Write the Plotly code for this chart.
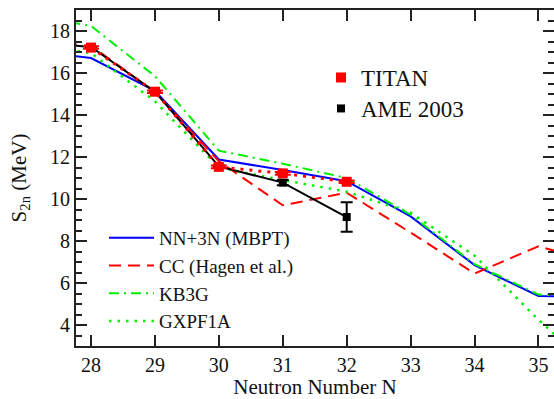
import plotly.graph_objects as go

FONT = "Liberation Serif, Times New Roman, Times, serif"

# ---- data ----
N_theory = [27, 28, 29, 30, 31, 32, 33, 34, 35, 36]
nn3n = [17.10, 16.71, 15.15, 11.88, 11.38, 10.85, 9.17, 6.85, 5.38, 5.35]
cc = [17.50, 17.30, 15.10, 11.80, 9.70, 10.30, 8.40, 6.45, 7.75, 6.90]
kb3g = [18.80, 18.24, 15.85, 12.30, 11.68, 11.00, 9.25, 6.90, 5.45, 5.30]
gxpf1a = [17.40, 16.95, 14.65, 11.50, 10.90, 10.35, 9.35, 7.30, 4.25, 1.50]

N_ame = [27, 28, 29, 30, 31, 32]
ame = [17.50, 17.24, 15.11, 11.55, 10.78, 9.14]
ame_err = [0.02, 0.02, 0.02, 0.05, 0.12, 0.70]

N_titan = [28, 29, 30, 31, 32]
titan = [17.21, 15.11, 11.53, 11.22, 10.82]
titan_err = [0.06, 0.06, 0.06, 0.06, 0.06]

x_ticks = [28, 29, 30, 31, 32, 33, 34, 35]
y_ticks = [4, 6, 8, 10, 12, 14, 16, 18]

GREEN = "#00f000"

fig = go.Figure()

fig.add_trace(go.Scatter(x=N_theory, y=nn3n, mode="lines", name="NN+3N (MBPT)",
                         line=dict(color="#0000ff", width=2), legend="legend"))
fig.add_trace(go.Scatter(x=N_theory, y=cc, mode="lines", name="CC (Hagen et al.)",
                         line=dict(color="#ff0000", width=2, dash="12px,7px"), legend="legend"))
fig.add_trace(go.Scatter(x=N_theory, y=kb3g, mode="lines", name="KB3G",
                         line=dict(color=GREEN, width=2, dash="10px,5px,2px,5px"), legend="legend"))
fig.add_trace(go.Scatter(x=N_theory, y=gxpf1a, mode="lines", name="GXPF1A",
                         line=dict(color=GREEN, width=2.5, dash="2.5px,6px"), legend="legend"))

# AME 2003 line + markers
fig.add_trace(go.Scatter(x=N_ame, y=ame, mode="lines", showlegend=False,
                         line=dict(color="black", width=2)))
fig.add_trace(go.Scatter(x=N_ame, y=ame, mode="markers", name="AME 2003",
                         marker=dict(symbol="square", size=8, color="black"),
                         error_y=dict(type="data", array=ame_err, color="black", thickness=2, width=6),
                         legend="legend3"))

# TITAN line + markers
fig.add_trace(go.Scatter(x=N_titan, y=titan, mode="lines", showlegend=False,
                         line=dict(color="#ff0000", width=3, dash="3px,6px")))
fig.add_trace(go.Scatter(x=N_titan, y=titan, mode="markers", name="TITAN",
                         marker=dict(symbol="square", size=10, color="#ff0000"),
                         error_y=dict(type="data", array=titan_err, color="#ff0000", thickness=2, width=8),
                         legend="legend2"))

L, R, T, B = 76, 0, 10, 53
W, H = 554, 399
PW, PH = W - L - R, H - T - B

axis_common = dict(
    showline=True, linecolor="#222222", linewidth=2, mirror="ticks",
    ticks="inside", tickcolor="#222222", tickwidth=1.5, ticklen=11,
    showgrid=False, zeroline=False,
    tickfont=dict(family=FONT, size=20, color="#111111"),
)

small_legend = dict(xanchor="left", yanchor="top", bgcolor="rgba(0,0,0,0)",
                    font=dict(family=FONT, size=23, color="#111111"), itemwidth=30)

fig.update_layout(
    width=W, height=H,
    margin=dict(l=L, r=R, t=T, b=B, autoexpand=False),
    paper_bgcolor="white", plot_bgcolor="white",
    font=dict(family=FONT, color="#111111"),
    xaxis=dict(range=[27.765, 35.243], tickvals=x_ticks, ticktext=[str(v) for v in x_ticks],
               title=dict(text="Neutron Number N", font=dict(family=FONT, size=21), standoff=8),
               automargin=False, **axis_common),
    yaxis=dict(range=[3, 19], tickvals=y_ticks, ticktext=[str(v) for v in y_ticks],
               minor=dict(dtick=0.5, tick0=0, ticks="inside", ticklen=6, tickwidth=1.5, tickcolor="#222222"),
               title=dict(text="S<sub>2n</sub> (MeV)", font=dict(family=FONT, size=21), standoff=18),
               automargin=False, **axis_common),
    legend=dict(x=(104 - L) / PW, y=(346 - 219) / PH, xanchor="left", yanchor="top",
                bgcolor="rgba(0,0,0,0)", font=dict(family=FONT, size=19, color="#111111"),
                itemwidth=45, traceorder="normal", tracegroupgap=0),
    legend2=dict(x=(321 - L) / PW, y=(346 - 56) / PH, **small_legend),
    legend3=dict(x=(321 - L) / PW, y=(346 - 87) / PH, **small_legend),
)

fig.write_html("out.html")
